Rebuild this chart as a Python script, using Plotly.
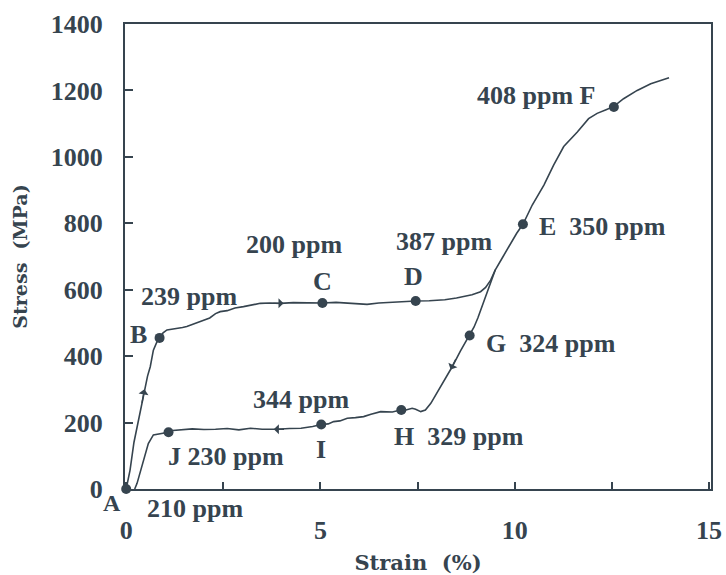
import plotly.graph_objects as go

# Loading branch (strain %, stress MPa)
load_strain = [0.00, 0.05, 0.10, 0.20, 0.32, 0.45, 0.55, 0.62, 0.70, 0.78, 0.86, 0.95, 1.05, 1.25, 1.45,
               1.56, 1.75, 1.99, 2.15, 2.30, 2.42, 2.60, 2.80, 3.02, 3.20, 3.45, 3.70, 3.97, 4.30, 4.70,
               5.05, 5.40, 5.80, 6.20, 6.50, 6.90, 7.20, 7.45, 7.80, 8.20, 8.50, 8.69, 8.90, 9.12, 9.25,
               9.38, 9.50, 9.70, 9.90, 10.05, 10.21, 10.45, 10.75, 11.00, 11.26, 11.61, 11.90, 12.12,
               12.35, 12.55, 12.80, 13.15, 13.50, 13.75, 13.97]
load_stress = [0, 25, 57, 140, 208, 288, 340, 368, 418, 440, 454, 470, 479, 482, 486,
               489, 497, 509, 515, 528, 534, 537, 545, 549, 553, 559, 560, 559, 561, 560,
               560, 562, 559, 556, 560, 563, 565, 566, 567, 570, 575, 579, 585, 594, 607,
               629, 660, 700, 740, 770, 797, 855, 915, 975, 1031, 1075, 1115, 1131,
               1142, 1152, 1175, 1200, 1220, 1230, 1238]

# Unloading branch
unload_strain = [9.50, 9.35, 9.20, 9.05, 8.95, 8.82, 8.60, 8.39, 8.20, 8.00, 7.84, 7.70, 7.58, 7.45,
                 7.36, 7.20, 7.06, 6.85, 6.55, 6.30, 6.11, 5.90, 5.69, 5.50, 5.34, 5.20, 5.02, 4.80,
                 4.50, 4.20, 3.88, 3.50, 3.20, 2.90, 2.60, 2.30, 2.00, 1.70, 1.40, 1.20, 1.09, 0.90,
                 0.70, 0.57, 0.45, 0.35, 0.28, 0.22]
unload_stress = [660, 610, 560, 515, 487, 461, 415, 368, 330, 290, 258, 238, 233, 240,
                 243, 238, 238, 232, 233, 225, 218, 215, 213, 205, 203, 196, 194, 188,
                 183, 182, 180, 180, 183, 178, 182, 180, 179, 181, 178, 176, 171, 168,
                 163, 137, 87, 45, 17, 0]

# Marked points
pt_names = ["A", "B", "C", "D", "E", "F", "G", "H", "I", "J"]
pt_strain = [0.00, 0.86, 5.05, 7.45, 10.21, 12.55, 8.84, 7.08, 5.02, 1.09]
pt_stress = [0, 455, 560, 566, 797, 1150, 462, 238, 194, 171]

# Labels inside the plot (text, strain, stress)
lab_text = ["200 ppm", "C", "239 ppm", "B", "344 ppm", "I", "J 230 ppm", "H  329 ppm",
            "G  324 ppm", "387 ppm", "D", "E  350 ppm", "408 ppm F"]
lab_x = [4.33, 5.05, 1.62, 0.32, 4.50, 5.02, 2.58, 8.57, 10.92, 8.17, 7.40, 12.27, 10.54]
lab_y = [735, 624, 580, 464, 270, 119, 97, 157, 439, 745, 641, 790, 1186]

# Direction arrows along the curve (head strain, head stress, tail strain, tail stress)
arr_hx = [0.47, 4.05, 8.35, 3.80]
arr_hy = [300, 559, 360, 180]
arr_tx = [0.40, 3.75, 8.50, 4.10]
arr_ty = [255, 559, 395, 180]

x_tickvals = [0, 2.5, 5, 7.5, 10, 12.5, 15]
x_ticktext = ["0", "", "5", "", "10", "", "15"]
y_tickvals = [0, 200, 400, 600, 800, 1000, 1200, 1400]

INK = "#36444f"
SERIF = "Liberation Serif"
TITLEF = "DejaVu Serif"
LABSIZE = 26

fig = go.Figure()
fig.add_trace(go.Scatter(x=load_strain, y=load_stress, mode="lines",
                         line=dict(color=INK, width=1.6), showlegend=False, hoverinfo="skip"))
fig.add_trace(go.Scatter(x=unload_strain, y=unload_stress, mode="lines",
                         line=dict(color=INK, width=1.6), showlegend=False, hoverinfo="skip"))
fig.add_trace(go.Scatter(x=pt_strain, y=pt_stress, mode="markers", text=pt_names,
                         marker=dict(color=INK, size=10), cliponaxis=False, showlegend=False))

annotations = []
for t, x, y in zip(lab_text, lab_x, lab_y):
    annotations.append(dict(x=x, y=y, xref="x", yref="y", text="<b>%s</b>" % t, showarrow=False,
                            xanchor="center", yanchor="middle",
                            font=dict(family=SERIF, size=LABSIZE, color=INK)))
annotations.append(dict(x=-0.022, y=-0.030, xref="paper", yref="paper", text="<b>A</b>", showarrow=False,
                        xanchor="center", yanchor="middle", borderpad=0,
                        font=dict(family=SERIF, size=24, color=INK)))
annotations.append(dict(x=1.78, y=-0.041, xref="x", yref="paper", text="<b>210 ppm</b>", showarrow=False,
                        xanchor="center", yanchor="middle",
                        font=dict(family=SERIF, size=LABSIZE, color=INK)))
for hx, hy, tx, ty in zip(arr_hx, arr_hy, arr_tx, arr_ty):
    annotations.append(dict(x=hx, y=hy, ax=tx, ay=ty, xref="x", yref="y", axref="x", ayref="y",
                            text="", showarrow=True, arrowhead=1, arrowsize=1.2, arrowwidth=1.4,
                            arrowcolor=INK, standoff=0, startstandoff=0))

fig.update_layout(
    width=726, height=575,
    margin=dict(l=125, r=15, t=24, b=86, autoexpand=False),
    paper_bgcolor="white", plot_bgcolor="white",
    annotations=annotations,
    xaxis=dict(range=[-0.03, 15.05], tickmode="array", tickvals=x_tickvals, ticktext=x_ticktext,
               ticks="inside", ticklen=7, tickwidth=1.5, tickcolor=INK, automargin=False,
               showline=True, mirror=True, linecolor=INK, linewidth=2,
               showgrid=False, zeroline=False, ticklabelstandoff=17,
               tickfont=dict(family=SERIF, size=26, color=INK, weight="bold"),
               title=dict(text="Strain  (%)", standoff=13,
                          font=dict(family=TITLEF, size=21, color=INK, weight="bold"))),
    yaxis=dict(range=[0, 1400], tickmode="array", tickvals=y_tickvals,
               ticks="inside", ticklen=8, tickwidth=1.5, tickcolor=INK, automargin=False,
               showline=True, mirror=True, linecolor=INK, linewidth=2,
               showgrid=False, zeroline=False, ticklabelstandoff=15,
               tickfont=dict(family=SERIF, size=26, color=INK, weight="bold"),
               title=dict(text="Stress  (MPa)", standoff=18,
                          font=dict(family=TITLEF, size=19, color=INK, weight="bold"))),
)

fig.write_html("out.html", config={"displayModeBar": False},
               post_script="document.body.style.margin='0px';")
